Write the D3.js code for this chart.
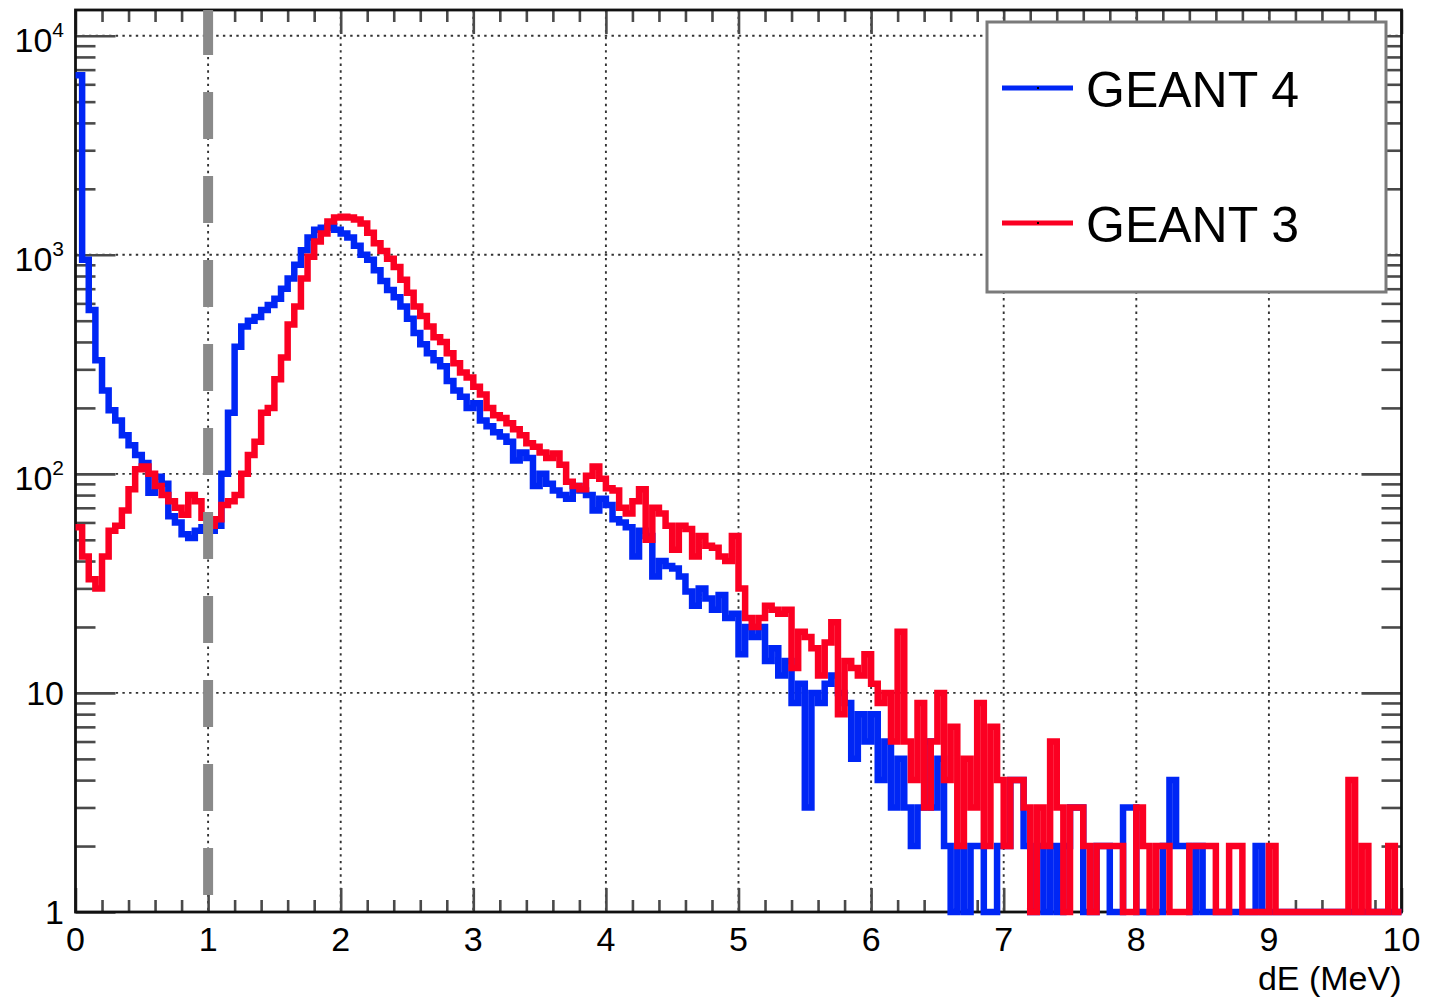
<!DOCTYPE html>
<html>
<head>
<meta charset="utf-8">
<script src="https://cdn.jsdelivr.net/npm/d3@7"></script>
<style>
  html, body { margin: 0; padding: 0; background: #fff; }
  svg { display: block; }
  text { font-family: "Liberation Sans", Arial, Helvetica, sans-serif; fill: #000; }
</style>
</head>
<body>
<svg id="chart" width="1429" height="997"></svg>
<script>
// ---------------- data ----------------
const nBins = 200;            // histogram binning of dE
const dEMin = 0, dEMax = 10;  // MeV
const xTickLabels = ["0","1","2","3","4","5","6","7","8","9","10"];
const xTickValues = [0,1,2,3,4,5,6,7,8,9,10];
const yDecadeValues = [1, 10, 100, 1000, 10000];
const yDecadeExponents = [0, 1, 2, 3, 4];
const seriesNames = ["GEANT 4", "GEANT 3"];
const cutValue = 1;   // MeV, vertical dashed line

const geant4Counts = [
6600,950,560,330,240,195,175,150,135,122,
112,82,97,90,64,60,53,51,55,57,
55,58,100,190,380,470,500,520,560,590,
630,700,780,900,1050,1200,1300,1330,1350,1300,
1250,1200,1100,1000,950,850,760,690,640,580,
510,440,390,355,330,310,265,240,225,200,
210,175,165,155,148,140,115,125,118,88,
100,90,84,80,77,88,84,80,68,77,
72,62,60,57,42,55,52,34,40,38,
37,34,29,25,30,27,24,28,22,23,
15,20,18,20,14,16,12,14,9,11,
3,10,9,11,12,10,9,5,8,6,
8,4,6,3,5,3,2,3,6,3,
5,2,1,2,0,2,2,0,1,2,
2,4,4,2,0,2,0,2,1,2,
3,3,0,0,2,2,0,0,3,3,
0,0,0,0,2,4,2,2,0,2,
0,0,0,0,0,0,0,0,2,0,
0,0,0,0,0,0,0,0,0,0,
0,0,0,0,0,0,0,0,0,0
];

const geant3Counts = [
57,42,33,30,42,55,58,68,85,105,
108,100,88,80,75,70,65,80,75,63,
58,62,72,75,80,100,122,140,190,200,
270,340,480,580,780,980,1150,1250,1420,1480,
1490,1480,1450,1390,1260,1130,1040,960,880,770,
670,580,525,470,420,400,355,320,290,275,
250,230,200,185,180,170,160,150,138,133,
125,118,124,110,92,88,85,98,108,95,
86,84,70,66,75,85,50,70,66,58,
45,58,56,42,52,47,46,42,40,52,
30,22,20,22,25,24,23,24,13,19,
18,16,12,17,21,8,14,13,12,15,
11,9,10,6,19,6,4,9,3,6,
10,4,7,2,5,3,9,2,7,4,
2,4,4,3,0,3,2,6,3,1,
3,3,2,0,2,2,2,2,0,0,
3,2,0,2,2,0,0,0,2,2,
2,2,0,0,2,2,0,0,0,0,
2,0,0,0,0,0,0,0,0,0,
0,0,4,0,2,0,0,0,2,0
];

// ---------------- layout ----------------
const L = 75.5, R = 1401.5, T = 10, B = 912;
const svg = d3.select("#chart");
svg.append("rect").attr("width",1429).attr("height",997).attr("fill","#fff");

const x = d3.scaleLinear().domain([dEMin, dEMax]).range([L, R]);
const y = d3.scaleLog().domain([1, 13100]).range([B, T]);

const binWidth = (dEMax - dEMin) / nBins;
const edges = d3.range(nBins + 1).map(i => dEMin + i * binWidth);

// ---------------- grid ----------------
const grid = svg.append("g");
grid.selectAll("line.gx").data(xTickValues.slice(1, -1)).join("line")
  .attr("x1", d => x(d)).attr("x2", d => x(d)).attr("y1", T).attr("y2", B)
  .attr("stroke", "#333").attr("stroke-width", 1.9).attr("stroke-dasharray", "2.4,4.3");
grid.selectAll("line.gy").data(yDecadeValues.slice(1)).join("line")
  .attr("x1", L).attr("x2", R).attr("y1", d => y(d)).attr("y2", d => y(d))
  .attr("stroke", "#333").attr("stroke-width", 1.9).attr("stroke-dasharray", "2.4,4.3");

// ---------------- axes (ticks) ----------------
const tickColor = "#4a4a4a";
const xMinor = d3.range(0, 50).map(i => i * 0.2).filter(v => Math.abs(v - Math.round(v)) > 1e-6);
const yMinor = [];
[1, 10, 100, 1000].forEach(d => { for (let k = 2; k <= 9; k++) yMinor.push(k * d); });

function styleAxis(g) {
  g.select(".domain").remove();
  g.selectAll(".tick line").attr("stroke", tickColor).attr("stroke-width", 2.6);
  g.selectAll("text").remove();
}

svg.append("g").attr("transform", `translate(0,${B})`)
  .call(d3.axisBottom(x).tickValues(xTickValues).tickSizeInner(-24).tickSizeOuter(0)).call(styleAxis);
svg.append("g").attr("transform", `translate(0,${B})`)
  .call(d3.axisBottom(x).tickValues(xMinor).tickSizeInner(-12).tickSizeOuter(0)).call(styleAxis);
svg.append("g").attr("transform", `translate(0,${T})`)
  .call(d3.axisTop(x).tickValues(xTickValues).tickSizeInner(-24).tickSizeOuter(0)).call(styleAxis);
svg.append("g").attr("transform", `translate(0,${T})`)
  .call(d3.axisTop(x).tickValues(xMinor).tickSizeInner(-12).tickSizeOuter(0)).call(styleAxis);
svg.append("g").attr("transform", `translate(${L},0)`)
  .call(d3.axisLeft(y).tickValues(yDecadeValues).tickSizeInner(-40).tickSizeOuter(0)).call(styleAxis);
svg.append("g").attr("transform", `translate(${L},0)`)
  .call(d3.axisLeft(y).tickValues(yMinor).tickSizeInner(-20).tickSizeOuter(0)).call(styleAxis);
svg.append("g").attr("transform", `translate(${R},0)`)
  .call(d3.axisRight(y).tickValues(yDecadeValues).tickSizeInner(-40).tickSizeOuter(0)).call(styleAxis);
svg.append("g").attr("transform", `translate(${R},0)`)
  .call(d3.axisRight(y).tickValues(yMinor).tickSizeInner(-20).tickSizeOuter(0)).call(styleAxis);

svg.append("rect").attr("x", L).attr("y", T).attr("width", R - L).attr("height", B - T)
  .attr("fill", "none").attr("stroke", "#111").attr("stroke-width", 2.8);

// ---------------- tick labels ----------------
svg.append("g").selectAll("text").data(xTickValues).join("text")
  .attr("x", d => x(d)).attr("y", B + 39)
  .attr("text-anchor", "middle").attr("font-size", 34)
  .text((d, i) => xTickLabels[i]);

const yl = svg.append("g");
yDecadeValues.forEach((v, i) => {
  const e = yDecadeExponents[i];
  const yy = y(v);
  if (e <= 1) {
    yl.append("text").attr("x", 64).attr("y", yy + 12)
      .attr("text-anchor", "end").attr("font-size", 34).text(e === 0 ? "1" : "10");
  } else {
    const t = yl.append("text").attr("x", 64).attr("y", yy + 16.5)
      .attr("text-anchor", "end").attr("font-size", 34);
    t.append("tspan").text("10");
    t.append("tspan").attr("font-size", 21).attr("dy", -15).text(String(e));
  }
});

svg.append("text").attr("x", R).attr("y", 990).attr("text-anchor", "end")
  .attr("font-size", 34).text("dE (MeV)");

// ---------------- histograms ----------------
svg.append("clipPath").attr("id", "plotclip").append("rect")
  .attr("x", L).attr("y", T).attr("width", R - L).attr("height", B - T + 7);

function histPoints(counts) {
  const pts = counts.map((c, i) => [edges[i], Math.max(c, 1)]);
  pts.push([edges[nBins], Math.max(counts[nBins - 1], 1)]);
  return pts;
}
const stepLine = d3.line().x(d => x(d[0])).y(d => y(d[1])).curve(d3.curveStepAfter);

const hg = svg.append("g").attr("clip-path", "url(#plotclip)");
const colors = ["#0026f5", "#fb0022"];
[geant4Counts, geant3Counts].forEach((counts, k) => {
  hg.append("path").attr("d", stepLine(histPoints(counts)))
    .attr("fill", "none").attr("stroke", colors[k]).attr("stroke-width", 6.5)
    .attr("stroke-linejoin", "miter").attr("stroke-linecap", "square");
});

// dashed cut line
svg.append("line").attr("x1", x(cutValue)).attr("x2", x(cutValue)).attr("y1", T).attr("y2", B)
  .attr("stroke", "#8a8a8a").attr("stroke-width", 10)
  .attr("stroke-dasharray", "47,37").attr("stroke-dashoffset", 2);

// ---------------- legend ----------------
const lg = svg.append("g");
lg.append("rect").attr("x", 987).attr("y", 22).attr("width", 399).attr("height", 270)
  .attr("fill", "#fff").attr("stroke", "#7a7a7a").attr("stroke-width", 3);
const legY = [88, 223];
seriesNames.forEach((name, i) => {
  lg.append("line").attr("x1", 1002).attr("x2", 1073).attr("y1", legY[i]).attr("y2", legY[i])
    .attr("stroke", colors[i]).attr("stroke-width", 5);
  lg.append("rect").attr("x", 1037).attr("y", legY[i] - 1).attr("width", 2).attr("height", 2).attr("fill", "#000");
  lg.append("text").attr("x", 1086).attr("y", legY[i] + 19).attr("font-size", 50).text(name);
});
</script>
</body>
</html>
